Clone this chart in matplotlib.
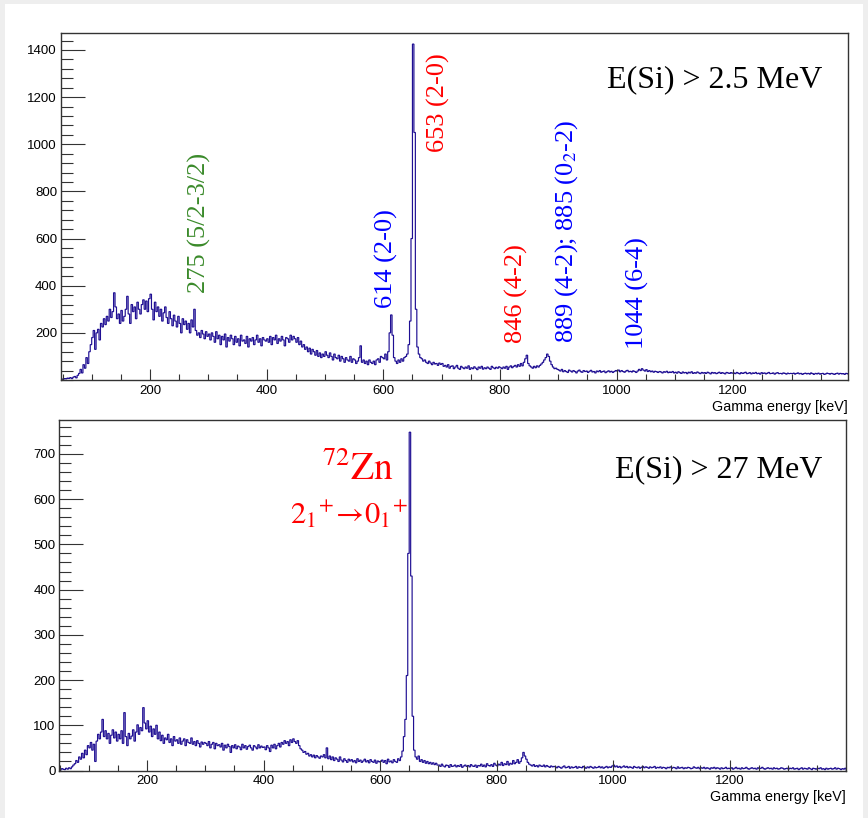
import matplotlib
matplotlib.use('Agg')
import matplotlib.pyplot as plt
import numpy as np
from matplotlib.ticker import MultipleLocator
from matplotlib.patches import Rectangle

plt.rcParams['font.family'] = ['Liberation Sans', 'DejaVu Sans']
plt.rcParams['mathtext.fontset'] = 'stix'

# ---------------- data (2.5 keV bins starting at 45 keV) ----------------
bin_start = 45.0
bin_width = 2.5

top_counts = [
    # 45 - 100
    2, 4, 3, 6, 5, 8, 7, 10, 6, 12, 15, 9, 20, 28, 45, 30, 65, 50, 95, 70, 120, 150,
    # 100 - 200
    180, 210, 130, 200, 215, 170, 240, 225, 260, 235, 270, 250, 300, 265, 290, 370, 310, 260, 280, 240,
    295, 250, 270, 300, 355, 280, 240, 320, 290, 310, 260, 330, 300, 280, 320, 340, 300, 335, 290, 345,
    # 200 - 300
    364, 300, 255, 330, 290, 310, 270, 300, 250, 285, 310, 265, 240, 290, 260, 230, 275, 250, 225, 270,
    240, 200, 260, 235, 250, 215, 240, 200, 255, 225, 300, 210, 190, 200, 180, 210, 195, 175, 205, 185,
    # 300 - 400
    195, 170, 200, 185, 160, 205, 175, 190, 150, 185, 170, 195, 140, 180, 165, 190, 175, 150, 185, 160,
    175, 145, 190, 165, 170, 155, 185, 140, 175, 165, 180, 150, 170, 190, 160, 175, 145, 180, 170, 165,
    # 400 - 500
    175, 160, 185, 150, 180, 170, 190, 155, 175, 165, 185, 170, 145, 180, 175, 160, 190, 170, 185, 175,
    160, 180, 150, 165, 140, 150, 130, 140, 120, 135, 110, 130, 120, 105, 125, 100, 115, 95, 110, 100,
    # 500 - 600
    120, 105, 95, 115, 100, 85, 110, 95, 90, 105, 80, 100, 90, 75, 95, 85, 80, 100, 75, 90,
    85, 70, 80, 95, 145, 75, 85, 70, 80, 65, 85, 75, 70, 80, 65, 85, 90, 75, 100, 95,
    # 600 - 700
    90, 110, 85, 120, 200, 276, 190, 95, 80, 70, 85, 75, 90, 80, 95, 100, 110, 150, 250, 600,
    1425, 1050, 300, 140, 110, 95, 90, 80, 85, 75, 70, 80, 72, 65, 75, 68, 70, 62, 72, 66,
    # 700 - 800
    70, 58, 62, 55, 65, 50, 58, 60, 48, 55, 62, 50, 45, 58, 52, 48, 55, 50, 60, 45,
    52, 48, 56, 50, 44, 55, 50, 58, 46, 52, 48, 55, 50, 45, 58, 52, 48, 54, 50, 56,
    # 800 - 900
    52, 48, 55, 50, 58, 45, 55, 60, 52, 58, 62, 55, 65, 58, 70, 60, 75, 90, 105, 70,
    60, 55, 50, 58, 52, 60, 55, 62, 68, 75, 85, 95, 110, 100, 80, 65, 55, 48, 50, 45,
    # 900 - 1000
    42, 38, 45, 35, 40, 36, 32, 42, 38, 34, 40, 36, 30, 38, 42, 35, 33, 40, 36, 38,
    32, 37, 41, 34, 36, 30, 38, 35, 40, 33, 36, 38, 31, 35, 39, 34, 37, 32, 36, 40,
    # 1000 - 1100
    38, 42, 35, 40, 36, 33, 38, 41, 35, 37, 34, 39, 36, 32, 38, 45, 40, 48, 42, 38,
    44, 36, 40, 35, 38, 33, 37, 35, 32, 36, 34, 30, 35, 33, 37, 31, 34, 32, 36, 30,
    # 1100 - 1200
    33, 29, 35, 31, 28, 34, 30, 32, 27, 33, 30, 35, 28, 31, 29, 34, 30, 27, 32, 29,
    31, 28, 33, 30, 26, 32, 29, 31, 27, 30, 33, 28, 31, 29, 26, 32, 30, 28, 31, 29,
    # 1200 - 1300
    30, 27, 32, 29, 26, 31, 28, 30, 33, 27, 29, 31, 26, 30, 28, 32, 27, 29, 25, 31,
    28, 30, 26, 29, 32, 27, 28, 30, 25, 29, 31, 27, 28, 26, 30, 28, 25, 29, 27, 28,
    # 1300 - 1400
    27, 29, 25, 28, 30, 26, 28, 24, 27, 29, 26, 28, 25, 30, 27, 24, 28, 26, 29, 25,
    27, 28, 24, 26, 29, 27, 25, 28, 26, 24, 27, 29, 25, 28, 26, 27, 24, 28, 26, 27,
]

bottom_counts = [
    # 45 - 100
    2, 3, 1, 4, 3, 2, 5, 3, 6, 4, 8, 12, 15, 22, 18, 30, 25, 38, 28, 45, 35, 55,
    # 100 - 200
    50, 62, 45, 58, 20, 65, 80, 70, 85, 113, 75, 88, 70, 82, 60, 78, 90, 72, 85, 65,
    80, 70, 88, 60, 128, 75, 55, 82, 70, 76, 90, 65, 85, 101, 80, 95, 88, 139, 105, 92,
    # 200 - 300
    110, 85, 98, 75, 92, 80, 100, 70, 85, 66, 78, 60, 72, 68, 80, 62, 70, 55, 75, 65,
    68, 60, 72, 58, 65, 70, 55, 68, 62, 60, 72, 58, 64, 55, 66, 60, 52, 63, 58, 62,
    # 300 - 400
    60, 55, 64, 50, 58, 62, 48, 60, 55, 57, 52, 60, 45, 56, 50, 58, 53, 40, 55, 50,
    57, 48, 54, 52, 46, 58, 50, 55, 47, 53, 56, 50, 45, 55, 52, 48, 57, 50, 54, 51,
    # 400 - 500
    52, 46, 55, 50, 42, 56, 50, 58, 48, 55, 60, 52, 62, 58, 66, 60, 64, 55, 68, 62,
    70, 64, 60, 66, 55, 48, 45, 40, 42, 36, 38, 32, 35, 30, 34, 28, 33, 30, 27, 32,
    # 500 - 600
    30, 35, 28, 50, 26, 32, 24, 30, 22, 28, 25, 20, 30, 23, 19, 26, 22, 18, 25, 21,
    24, 19, 22, 17, 26, 20, 23, 18, 21, 25, 19, 22, 17, 24, 20, 18, 23, 16, 21, 19,
    # 600 - 700
    20, 23, 18, 22, 15, 25, 19, 21, 17, 24, 20, 18, 26, 22, 30, 43, 75, 113, 210, 480,
    748, 430, 120, 45, 30, 25, 32, 20, 24, 18, 22, 16, 20, 15, 18, 14, 17, 13, 16, 12,
    # 700 - 800
    12, 9, 14, 10, 8, 12, 11, 7, 13, 9, 10, 12, 8, 11, 9, 13, 7, 10, 12, 9,
    11, 8, 13, 10, 9, 12, 7, 11, 10, 14, 9, 12, 8, 15, 11, 10, 13, 9, 16, 12,
    # 800 - 900
    10, 14, 12, 18, 11, 15, 13, 20, 12, 16, 14, 22, 15, 18, 24, 16, 20, 28, 40, 32,
    25, 18, 14, 12, 10, 13, 9, 11, 8, 12, 10, 9, 12, 8, 11, 9, 7, 10, 8, 9,
    # 900 - 1000
    8, 6, 9, 7, 5, 8, 10, 6, 7, 9, 5, 8, 6, 7, 9, 5, 8, 7, 6, 9,
    7, 5, 8, 6, 9, 7, 5, 8, 6, 7, 9, 6, 8, 5, 7, 9, 6, 8, 7, 10,
    # 1000 - 1100
    12, 8, 10, 7, 9, 6, 8, 10, 7, 9, 6, 8, 7, 5, 9, 7, 6, 8, 5, 7,
    9, 6, 8, 7, 5, 8, 6, 7, 9, 5, 7, 6, 8, 5, 7, 6, 4, 7, 6, 8,
    # 1100 - 1200
    5, 7, 6, 4, 8, 5, 6, 7, 4, 6, 5, 7, 6, 4, 5, 8, 6, 5, 7, 4,
    6, 5, 7, 4, 6, 5, 3, 6, 5, 7, 4, 6, 5, 3, 6, 4, 5, 7, 4, 5,
    # 1200 - 1300
    4, 6, 3, 5, 7, 4, 5, 3, 6, 4, 5, 7, 4, 3, 5, 6, 4, 5, 3, 6,
    4, 5, 7, 4, 3, 5, 6, 4, 5, 3, 6, 4, 5, 3, 4, 6, 5, 3, 4, 5,
    # 1300 - 1400
    3, 5, 4, 6, 3, 4, 5, 2, 4, 6, 3, 5, 4, 3, 6, 4, 2, 5, 4, 3,
    5, 4, 6, 3, 4, 2, 5, 3, 4, 5, 3, 4, 6, 3, 5, 4, 2, 4, 3, 5,
]

top_labels = ['275 (5/2-3/2)', '614 (2-0)', '653 (2-0)', '846 (4-2)',
              '889 (4-2); 885 (0$_2$-2)', '1044 (6-4)']
top_label_x = [284, 606, 694, 829, 915, 1035]
top_label_y = [369, 305, 967, 157, 157, 131]
top_label_colors = ['#3a8a2a', '#0000ff', '#ff0000', '#ff0000', '#0000ff', '#0000ff']

top_title = 'E(Si) > 2.5 MeV'
bottom_title = 'E(Si) > 27 MeV'
nucleus_label = r'$^{72}\mathrm{Zn}$'
transition_label = r'$2_1{}^{+}\!\rightarrow\!0_1{}^{+}$'
xlabel = 'Gamma energy [keV]'

# ---------------- figure ----------------
W, H = 868, 818
fig = plt.figure(figsize=(W / 100, H / 100), dpi=100, facecolor='#eeeeee')
fig.patches.append(Rectangle((5 / W, 0), (863 - 5) / W, (H - 4) / H,
                             transform=fig.transFigure, facecolor='white',
                             edgecolor='none', zorder=-10))

line_col = '#1f0f93'
frame_col = '#333333'
serif = ['Liberation Serif', 'DejaVu Serif']


def px_axes(l, t, r, b):
    return fig.add_axes([l / W, 1 - b / H, (r - l) / W, (b - t) / H])


ax1 = px_axes(60.5, 33, 847.5, 380)
ax2 = px_axes(59, 420, 845.5, 770.5)

for ax, counts, xlim, ylim, ymaj, ymin, ymax_lab in [
        (ax1, top_counts, (46.5, 1396), (0, 1472), 200, 40, 1400),
        (ax2, bottom_counts, (48.8, 1399), (0, 775), 100, 20, 700)]:
    edges = bin_start + bin_width * np.arange(len(counts) + 1)
    ax.stairs(counts, edges, color=line_col, lw=0.85)
    ax.set_xlim(*xlim)
    ax.set_ylim(*ylim)
    ax.set_facecolor('white')
    for s in ax.spines.values():
        s.set_color(frame_col)
        s.set_linewidth(1.0)
    ax.xaxis.set_major_locator(MultipleLocator(200))
    ax.xaxis.set_minor_locator(MultipleLocator(50))
    ax.yaxis.set_major_locator(MultipleLocator(ymaj))
    ax.yaxis.set_minor_locator(MultipleLocator(ymin))
    ax.tick_params(axis='x', which='major', direction='in', length=8, width=0.8,
                   color=frame_col, labelsize=9.5, pad=3.5)
    ax.tick_params(axis='x', which='minor', direction='in', length=4.5, width=0.8,
                   color=frame_col)
    ax.tick_params(axis='y', which='major', direction='in', length=17, width=0.8,
                   color=frame_col, labelsize=9.5, pad=2.5)
    ax.tick_params(axis='y', which='minor', direction='in', length=8.5, width=0.8,
                   color=frame_col)
    ax.set_xlabel(xlabel, fontsize=10.3, loc='right', labelpad=2)

ax1.set_yticks(np.arange(200, 1401, 200))
ax2.set_yticks(np.arange(0, 701, 100))

# annotations top panel
for lab, x, y, c in zip(top_labels, top_label_x, top_label_y, top_label_colors):
    ax1.text(x, y, lab, rotation=90, ha='center', va='bottom', color=c,
             fontsize=19, family=serif)

ax1.text(1353, 1272, top_title, ha='right', va='center', fontsize=23,
         family=serif, color='black')
ax2.text(1359, 664, bottom_title, ha='right', va='center', fontsize=23,
         family=serif, color='black')

ax2.text(562, 664, nucleus_label, ha='center', va='center',
         fontsize=27, color='#ff0000')
ax2.text(547, 565, transition_label, ha='center', va='center',
         fontsize=22, color='#ff0000')

fig.savefig('out.png', dpi=100)
